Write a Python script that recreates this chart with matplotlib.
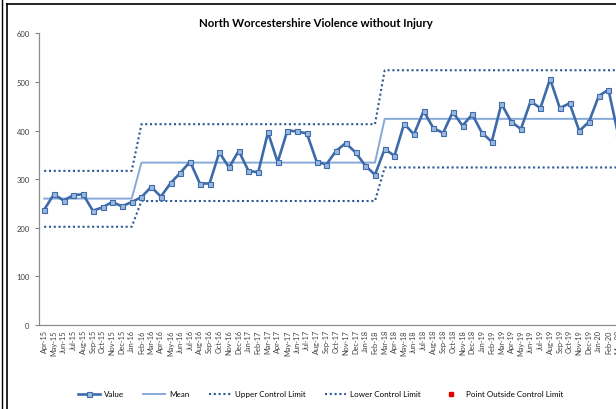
import numpy as np
import matplotlib.pyplot as plt
from matplotlib.lines import Line2D

plt.rcParams['font.family'] = ['Lato', 'DejaVu Sans']

# monthly values Apr-15 .. Mar-20
months = ['Apr-15', 'May-15', 'Jun-15', 'Jul-15', 'Aug-15', 'Sep-15', 'Oct-15', 'Nov-15', 'Dec-15',
          'Jan-16', 'Feb-16', 'Mar-16', 'Apr-16', 'May-16', 'Jun-16', 'Jul-16', 'Aug-16', 'Sep-16',
          'Oct-16', 'Nov-16', 'Dec-16', 'Jan-17', 'Feb-17', 'Mar-17', 'Apr-17', 'May-17', 'Jun-17',
          'Jul-17', 'Aug-17', 'Sep-17', 'Oct-17', 'Nov-17', 'Dec-17', 'Jan-18', 'Feb-18', 'Mar-18',
          'Apr-18', 'May-18', 'Jun-18', 'Jul-18', 'Aug-18', 'Sep-18', 'Oct-18', 'Nov-18', 'Dec-18',
          'Jan-19', 'Feb-19', 'Mar-19', 'Apr-19', 'May-19', 'Jun-19', 'Jul-19', 'Aug-19', 'Sep-19',
          'Oct-19', 'Nov-19', 'Dec-19', 'Jan-20', 'Feb-20', 'Mar-20']
values = [237, 269, 256, 267, 269, 235, 242, 253, 244, 253,
          263, 284, 264, 292, 313, 336, 291, 291, 355, 324,
          358, 317, 314, 396, 335, 400, 398, 394, 336, 330,
          358, 374, 355, 328, 309, 362, 348, 414, 392, 440,
          405, 395, 438, 410, 433, 395, 377, 455, 418, 403,
          460, 446, 506, 446, 456, 399, 418, 471, 484, 391]

# process periods: length, mean, upper and lower control limit
seg_len = [10, 25, 25]
seg_mean = [260, 334, 424]
seg_ucl = [317, 413, 524]
seg_lcl = [202, 255, 324]

mean = np.repeat(seg_mean, seg_len)
ucl = np.repeat(seg_ucl, seg_len)
lcl = np.repeat(seg_lcl, seg_len)
outside = [v if (v > u or v < l) else np.nan for v, u, l in zip(values, ucl, lcl)]

fig = plt.figure(figsize=(6.16, 4.10), dpi=100)
# plot area runs past the right edge of the picture (cropped screenshot)
ax = fig.add_axes([0.0638, 0.2049, 0.9477, 0.7115])
x = np.arange(len(months))

dot = (0, (1, 1.3))
ax.plot(x, ucl, color='#2B5797', lw=1.5, linestyle=dot, label='Upper Control Limit')
ax.plot(x, lcl, color='#2B5797', lw=1.5, linestyle=dot, label='Lower Control Limit')
ax.plot(x, mean, color='#86A9DA', lw=1.4, label='Mean')
ax.plot(x, values, color='#3D6BA9', lw=1.9, marker='s', markersize=3.6,
        markerfacecolor='#9BB8E0', markeredgecolor='#3D6BA9', markeredgewidth=0.8, label='Value')
ax.plot(x, outside, linestyle='none', marker='s', markersize=3, color='#E00000',
        label='Point Outside Control Limit')

ax.set_xlim(-0.5, len(months) - 0.5)
ax.set_ylim(0, 600)
ax.set_yticks(range(0, 601, 100))
ax.set_xticks(x)
ax.set_xticklabels(months, rotation=90, fontsize=5.3, color='#404040')
ax.tick_params(axis='x', length=0, pad=3)
ax.tick_params(axis='y', labelsize=5.5, labelcolor='#404040', length=3, color='#868686', pad=4)
for s in ['top', 'right']:
    ax.spines[s].set_visible(False)
for s in ['left', 'bottom']:
    ax.spines[s].set_color('#8C8C8C')
    ax.spines[s].set_linewidth(0.9)

fig.text(0.513, 0.943, 'North Worcestershire Violence without Injury', ha='center', va='center',
         fontsize=8.2, fontweight='bold', color='#000000')

h, l = ax.get_legend_handles_labels()
order = [3, 2, 0, 1, 4]
fig.legend([h[i] for i in order], [l[i] for i in order], loc='center', bbox_to_anchor=(0.521, 0.037),
           ncol=5, frameon=False, fontsize=5.8, handlelength=2.7, columnspacing=2.4, handletextpad=0.5)

# chart frame and sheet edge
fig.add_artist(Line2D([0.0115, 0.0115], [0, 0.988], color='#000000', lw=1.2))
fig.add_artist(Line2D([0.0115, 1.0], [0.988, 0.988], color='#000000', lw=1.2))
fig.add_artist(Line2D([0.003, 0.003], [0, 1], color='#000000', lw=1.0))

fig.savefig('out.png', dpi=100)
